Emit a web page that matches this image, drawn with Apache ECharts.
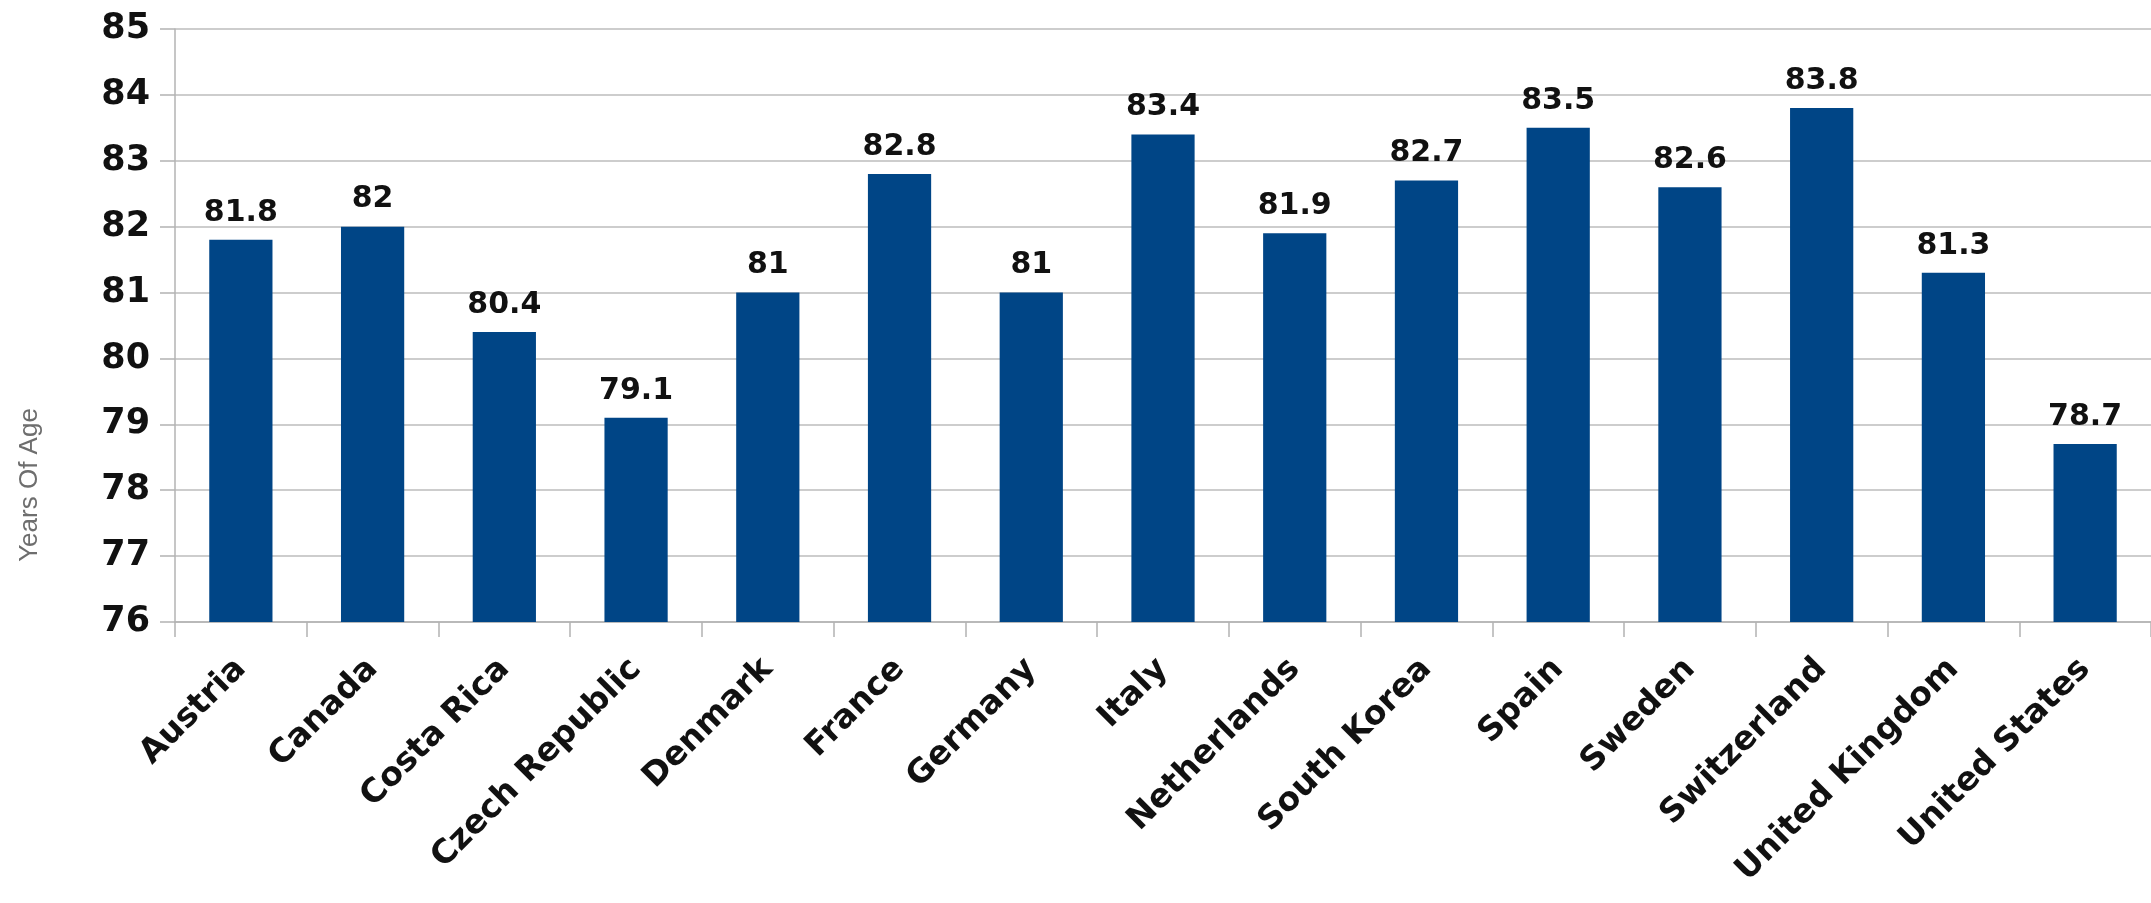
<!DOCTYPE html>
<html>
<head>
<meta charset="utf-8">
<script src="https://cdn.jsdelivr.net/npm/echarts@6/dist/echarts.min.js"></script>
<style>
html,body{margin:0;padding:0;background:#fff;}
#chart{width:2151px;height:903px;}
</style>
</head>
<body>
<div id="chart"></div>
<script>
const categories = ["Austria","Canada","Costa Rica","Czech Republic","Denmark","France","Germany","Italy","Netherlands","South Korea","Spain","Sweden","Switzerland","United Kingdom","United States"];
const lifeExpectancy = [81.8, 82, 80.4, 79.1, 81, 82.8, 81, 83.4, 81.9, 82.7, 83.5, 82.6, 83.8, 81.3, 78.7];
const yAxisTitle = "Years Of Age";
const yMin = 76, yMax = 85, yStep = 1;

const chart = echarts.init(document.getElementById('chart'), null, {renderer:'canvas'});
chart.setOption({
  animation: false,
  backgroundColor: '#ffffff',
  grid: {left: 175, top: 29, bottom: 281, right: -12, containLabel: false},
  xAxis: {
    type: 'category',
    data: categories,
    boundaryGap: true,
    axisLine: {show: true, lineStyle: {color: '#b3b3b3', width: 1.5}},
    axisTick: {show: true, length: 15, inside: false, alignWithLabel: false, lineStyle: {color: '#b3b3b3', width: 1.5}},
    axisLabel: {rotate: 45, margin: 42, interval: 0, fontFamily: 'DejaVu Sans', fontWeight: 'bold', fontSize: 33, color: '#111'}
  },
  yAxis: {
    type: 'value',
    min: yMin, max: yMax, interval: yStep,
    axisLine: {show: true, lineStyle: {color: '#b3b3b3', width: 1.5}},
    axisTick: {show: true, length: 15, lineStyle: {color: '#b3b3b3', width: 1.5}},
    splitLine: {show: true, lineStyle: {color: '#bdbdbd', width: 1.5}},
    axisLabel: {margin: 25, fontFamily: 'DejaVu Sans', fontWeight: 'bold', fontSize: 35, color: '#111'}
  },
  graphic: [{
    type: 'text',
    x: 30, y: 485,
    rotation: Math.PI / 2,
    style: {text: yAxisTitle, font: '26px "Liberation Sans"', fill: '#6e6e6e', textAlign: 'center', textVerticalAlign: 'middle'}
  }],
  series: [{
    type: 'bar',
    data: lifeExpectancy,
    barWidth: '48%',
    itemStyle: {color: '#004586'},
    label: {show: true, position: 'top', distance: 12, fontFamily: 'DejaVu Sans', fontWeight: 'bold', fontSize: 30, color: '#111'}
  }]
});
</script>
</body>
</html>
